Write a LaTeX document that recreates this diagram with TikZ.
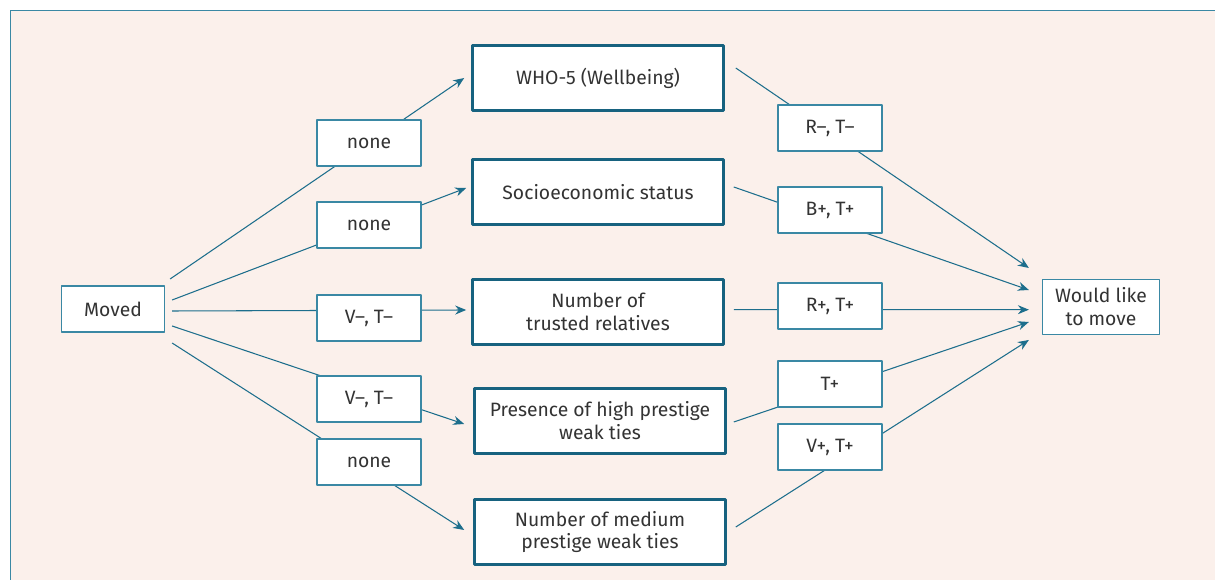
\documentclass[tikz,border=0pt]{standalone}
\usepackage{fontspec}
\setmainfont{Fira Sans}
\usetikzlibrary{arrows.meta,calc}
\definecolor{linkc}{HTML}{1D6E8C}
\definecolor{boxc}{HTML}{17627F}
\definecolor{framec}{HTML}{3A88A4}
\definecolor{bgpeach}{HTML}{FBF0EB}
\definecolor{txtc}{HTML}{333333}
\tikzset{
  outcome/.style={draw=boxc, line width=1.5pt, fill=white, minimum width=5.02cm, minimum height=1.3cm, align=center, text=txtc, inner sep=0pt},
  effect/.style={draw=framec, line width=0.7pt, fill=white, minimum width=2.08cm, minimum height=0.92cm, align=center, text=txtc, inner sep=0pt},
  link/.style={draw=linkc, line width=0.6pt}
}
\begin{document}
\begin{tikzpicture}[x=0.02cm, y=-0.02cm, font=\fontsize{11}{13}\selectfont, line join=round, >={Stealth[length=2.2mm,width=1.8mm]}]
 \useasboundingbox (0,0) rectangle (1215,580);
 \fill[bgpeach] (10.5,10.5) rectangle (1215,580);
 \draw[framec, line width=0.8pt] (1220,10.5) -- (10.5,10.5) -- (10.5,585);
 % start and end
 \node[effect, minimum width=2.06cm] (moved) at (113,309) {Moved};
 \node[effect, minimum width=2.34cm, minimum height=1.1cm] (move) at (1101,307) {Would like\\to move};
 % mediators
 \node[outcome] (who) at (598,78) {WHO-5 (Wellbeing)};
 \node[outcome] (ses) at (598,192) {Socioeconomic status};
 \node[outcome] (rel) at (598,312) {Number of\\trusted relatives};
 \node[outcome] (high) at (600,421) {Presence of high prestige\\weak ties};
 \node[outcome] (med) at (600,532) {Number of medium\\prestige weak ties};
 % paths
 \foreach \ax/\ay/\m/\bx/\by in {5/-30/who/-7/0, 7/-9/ses/-5/-4, 7/2/rel/-5/-2, 7/17/high/-9/3, 7/34/med/-9/-2}
   \draw[link,->] ($(moved.east)+(\ax,\ay)$) -- ($(\m.west)+(\bx,\by)$);
 \foreach \m/\ax/\ay/\by in {who/11/-10/-39, ses/9/-5/-17, rel/9/-2.3/2.7, high/7/1/15, med/9/-5/33}
   \draw[link,->] ($(\m.east)+(\ax,\ay)$) -- ($(move.west)+(-13,\by)$);
 % labels on paths
 \foreach \n/\y/\t in {a1/143/none, a2/225/none, a3/318/{V–, T–}, a4/399/{V–, T–}, a5/462/none}
   \node[effect] (\n) at (369,\y) {\t};
 \foreach \n/\y/\t in {b1/128/{R–, T–}, b2/210/{B+, T+}, b3/306/{R+, T+}, b4/384/T+, b5/447/{V+, T+}}
   \node[effect] (\n) at (830,\y) {\t};
\end{tikzpicture}
\end{document}
